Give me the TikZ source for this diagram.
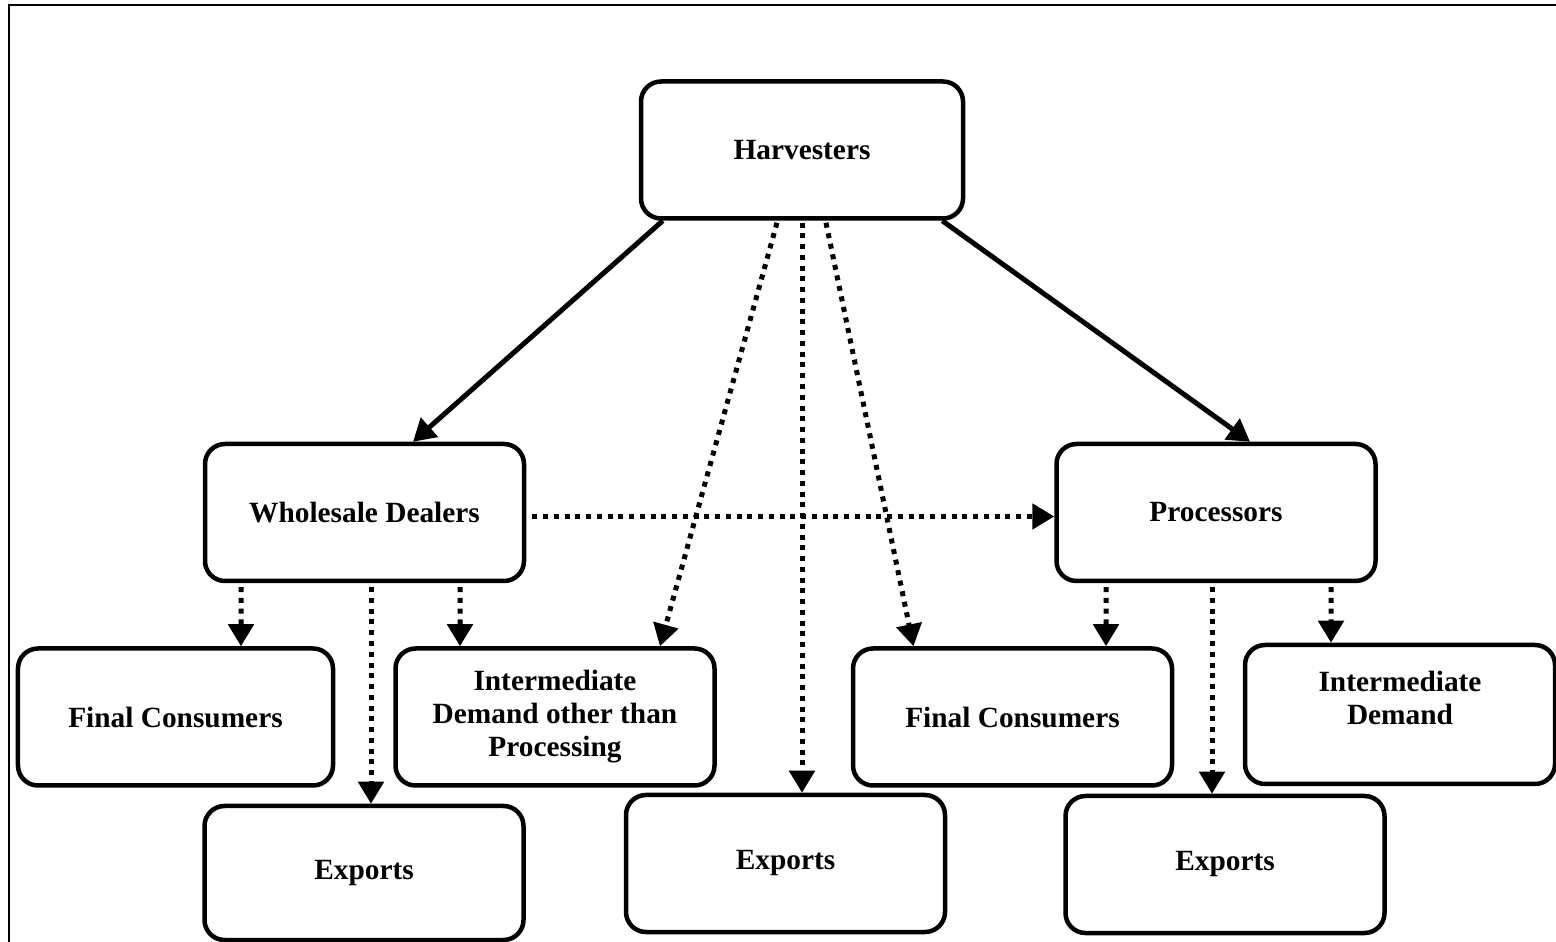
\documentclass[tikz,border=0pt]{standalone}
\usepackage{fontspec}
\setmainfont{Liberation Serif}
\usepackage{tikz}
\usetikzlibrary{shapes, arrows, arrows.meta, positioning, calc}

\tikzset{
    box/.style={draw, line width=0.09cm, rounded corners=0.4cm, minimum width=6.38cm, minimum height=2.74cm, align=center, font=\fontsize{16.7}{18.8}\selectfont\bfseries},
    flow/.style={line width=0.1cm, -{Triangle[width=0.5cm, length=0.44cm]}},
    dotflow/.style={flow, dash pattern=on 0.1cm off 0.115cm},
}

\begin{document}
\begin{tikzpicture}
    \clip (0, 0) rectangle (31.12, 18.82);
    % Outer frame
    \draw[line width=0.05cm] (0.18, -1) rectangle (33, 18.72);

    % Top level
    \node[box, minimum width=6.44cm] (harv) at (16.04, 15.82) {Harvesters};

    % Middle level
    \node[box] (whole) at (7.29, 8.57) {Wholesale Dealers};
    \node[box] (proc) at (24.32, 8.57) {Processors};

    % Demand level
    \node[box, minimum width=6.3cm] (fcL) at (3.51, 4.48) {Final Consumers};
    \node[box] (idO) at (11.10, 4.48) {Intermediate\\Demand other than\\Processing};
    \node[box] (fcR) at (20.25, 4.48) {Final Consumers};
    \node[box, minimum width=6.2cm, minimum height=2.78cm] (idR) at (28.0, 4.53) {Intermediate\\Demand\\~};

    % Exports
    \node[box, minimum height=2.68cm] (exL) at (7.28, 1.36) {Exports};
    \node[box] (exM) at (15.71, 1.55) {Exports};
    \node[box] (exR) at (24.5, 1.53) {Exports};

    % Harvesters to dealers and processors
    \draw[flow] ([xshift=0.48cm]harv.south west) -- ([xshift=0.97cm]whole.north);
    \draw[flow] ([xshift=-0.46cm]harv.south east) -- ([xshift=0.68cm]proc.north);

    % Harvesters direct
    \draw[dotflow] ([xshift=-0.5cm, yshift=-0.04cm]harv.south) -- ([xshift=2.1cm]idO.north);
    \draw[dotflow] ([yshift=-0.04cm]harv.south) -- (harv.south |- exM.north);
    \draw[dotflow] ([xshift=0.48cm, yshift=-0.04cm]harv.south) -- ([xshift=-1.98cm]fcR.north);

    % Dealers to processors
    \draw[dotflow] ([xshift=0.12cm, yshift=-0.08cm]whole.east) -- ([yshift=-0.08cm]proc.west);

    % Dealers outlets
    \draw[dotflow] ([xshift=-2.47cm, yshift=-0.08cm]whole.south) -- ([xshift=1.31cm]fcL.north);
    \draw[dotflow] ([xshift=0.13cm, yshift=-0.08cm]whole.south) -- ([xshift=0.14cm]exL.north);
    \draw[dotflow] ([xshift=1.91cm, yshift=-0.08cm]whole.south) -- ([xshift=-1.9cm]idO.north);

    % Processors outlets
    \draw[dotflow] ([xshift=-2.2cm, yshift=-0.08cm]proc.south) -- ([xshift=1.87cm]fcR.north);
    \draw[dotflow] ([xshift=-0.08cm, yshift=-0.08cm]proc.south) -- ([xshift=-0.26cm]exR.north);
    \draw[dotflow] ([xshift=2.3cm, yshift=-0.08cm]proc.south) -- ([xshift=-1.38cm]idR.north);
\end{tikzpicture}
\end{document}
